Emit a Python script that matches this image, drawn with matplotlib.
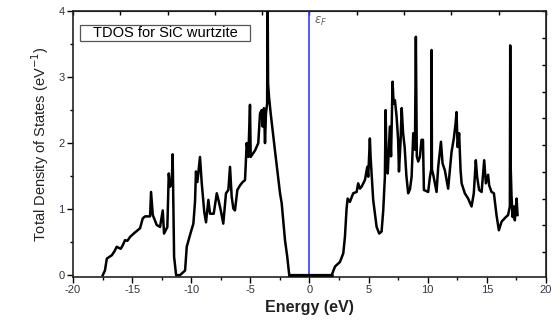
import numpy as np
import matplotlib
matplotlib.use('Agg')
import matplotlib.pyplot as plt
from matplotlib.ticker import MultipleLocator
from matplotlib.patches import Rectangle

plt.rcParams['font.family'] = ['Liberation Sans', 'DejaVu Sans']
plt.rcParams['axes.unicode_minus'] = False

# TDOS curve (energy in eV, DOS in 1/eV)
energy = [-17.48, -17.3, -17.14, -16.9, -16.72, -16.5, -16.3, -16.1, -15.96, -15.8,
          -15.6, -15.4, -15.17, -14.8, -14.33, -14.1, -13.9, -13.48, -13.4, -13.25,
          -12.92, -12.64, -12.41, -12.3, -12.02, -11.9, -11.79, -11.65, -11.57, -11.45,
          -11.28, -10.95, -10.52, -10.38, -10.1, -9.82, -9.68, -9.6, -9.48, -9.26,
          -9.11, -8.9, -8.75, -8.55, -8.41, -8.1, -7.84, -7.7, -7.5, -7.29,
          -7.06, -6.86, -6.72, -6.58, -6.44, -6.3, -6.1, -5.87, -5.65, -5.45,
          -5.31, -5.17, -5.03, -4.97, -4.6, -4.33, -4.18, -4.04, -3.96, -3.85,
          -3.76, -3.68, -3.58, -3.54, -3.5, -3.42, -3.28, -2.92, -2.49, -2.35,
          -2.07, -1.88, -1.71, 1.88, 2.16, 2.58, 2.86, 3.0, 3.14, 3.23,
          3.42, 3.7, 3.99, 4.12, 4.27, 4.41, 4.69, 4.89, 4.97, 5.11,
          5.17, 5.39, 5.68, 5.9, 6.1, 6.24, 6.38, 6.44, 6.52, 6.62,
          6.8, 6.9, 7.03, 7.12, 7.23, 7.37, 7.5, 7.57, 7.7, 7.8,
          7.92, 8.05, 8.2, 8.35, 8.5, 8.64, 8.78, 8.92, 9.0, 9.08,
          9.2, 9.34, 9.48, 9.6, 9.68, 10.04, 10.19, 10.3, 10.33, 10.36,
          10.47, 10.75, 10.89, 11.12, 11.26, 11.45, 11.73, 12.02, 12.21, 12.36,
          12.44, 12.53, 12.66, 12.78, 12.87, 13.14, 13.42, 13.71, 13.9, 14.07,
          14.18, 14.35, 14.56, 14.78, 14.92, 15.11, 15.2, 15.4, 15.6, 15.82,
          16.02, 16.25, 16.61, 16.8, 16.95, 16.98, 17.02, 17.09, 17.18, 17.29,
          17.37, 17.52, 17.6]
tdos = [0.0, 0.07, 0.25, 0.28, 0.30, 0.36, 0.43, 0.41, 0.40, 0.45,
        0.53, 0.52, 0.58, 0.64, 0.71, 0.86, 0.89, 0.89, 1.26, 0.91,
        0.76, 0.73, 0.98, 0.63, 0.73, 1.54, 1.34, 1.39, 1.83, 0.28,
        0.0, 0.0, 0.07, 0.43, 0.61, 0.78, 1.11, 1.57, 1.41, 1.79,
        1.39, 0.96, 0.80, 1.14, 0.93, 0.93, 1.24, 1.14, 0.98, 0.78,
        1.24, 1.29, 1.64, 1.19, 1.01, 0.98, 1.29, 1.36, 1.41, 1.44,
        2.0, 1.79, 2.58, 1.79, 1.89, 2.0, 2.45, 2.5, 2.25, 2.53,
        2.0, 2.45, 2.6, 4.3, 2.9, 2.7, 2.45, 1.89, 1.24, 1.09,
        0.53, 0.28, 0.0, 0.0, 0.13, 0.2, 0.33, 0.58, 1.01, 1.16,
        1.11, 1.24, 1.26, 1.39, 1.31, 1.34, 1.44, 1.64, 1.49, 2.07,
        1.79, 1.14, 0.73, 0.63, 0.66, 0.98, 1.49, 2.5, 1.69, 1.54,
        2.25, 1.8, 2.93, 2.6, 2.65, 2.4, 2.05, 1.57, 2.0, 2.53,
        2.15, 1.94, 1.5, 1.24, 1.3, 1.49, 2.15, 1.9, 3.61, 1.8,
        1.72, 1.79, 2.05, 2.05, 1.29, 1.26, 1.49, 1.6, 3.41, 1.6,
        1.52, 1.26, 1.64, 2.02, 1.69, 1.59, 1.31, 1.87, 2.07, 2.3,
        2.47, 1.94, 2.15, 1.59, 1.39, 1.24, 1.16, 1.04, 1.24, 1.74,
        1.49, 1.29, 1.26, 1.74, 1.39, 1.52, 1.36, 1.26, 1.24, 0.91,
        0.68, 0.81, 0.88, 0.91, 1.04, 3.48, 1.64, 1.2, 0.88, 1.04,
        0.83, 1.16, 0.91]

x_ticks = [-20, -15, -10, -5, 0, 5, 10, 15, 20]
y_ticks = [0, 1, 2, 3, 4]

fig = plt.figure(figsize=(5.59, 3.2), dpi=100)
ax = fig.add_axes([0.1306, 0.134, 0.846, 0.8315])

# zero-DOS gap segment, then the curve
ax.plot(energy, tdos, color='black', linewidth=1.8, zorder=3)
ax.plot([-1.71, 1.88], [0, 0], color='black', linewidth=1.8, zorder=3)
ax.axvline(0, color='#3a3aff', linewidth=1.2, zorder=2)

ax.set_xlim(-20, 20)
ax.set_ylim(-0.03, 4)
ax.set_xticks(x_ticks)
ax.set_yticks(y_ticks)
ax.xaxis.set_minor_locator(MultipleLocator(2.5))
ax.yaxis.set_minor_locator(MultipleLocator(0.5))
ax.tick_params(axis='both', which='major', direction='out', length=4, width=1,
               labelsize=8, labelcolor='#333344', pad=2)
ax.tick_params(axis='both', which='minor', direction='out', length=2.5, width=1)

# inner ticks on top and right (they follow their own spacing in the source)
top = ax.secondary_xaxis('top')
top.set_xticks(np.arange(-20, 21, 4))
top.tick_params(direction='in', length=3, width=1, labeltop=False)
right = ax.secondary_yaxis('right')
right.set_yticks(np.arange(0.35, 4.0, 0.405))
right.tick_params(direction='in', length=3, width=1, labelright=False)

for sp in ax.spines.values():
    sp.set_linewidth(1.2)
    sp.set_color('#222222')

ax.set_xlabel('Energy (eV)', fontsize=11.5, fontweight='bold', color='#222222', labelpad=3)
ax.set_ylabel('Total Density of States (eV$^{-1}$)', fontsize=10.5, color='#222222', labelpad=5)

# title box
ax.add_patch(Rectangle((-19.4, 3.55), 14.4, 0.24, facecolor='white',
                       edgecolor='#555555', linewidth=0.9, zorder=4))
ax.text(-12.2, 3.67, 'TDOS for SiC wurtzite', fontsize=10.5, color='black',
        ha='center', va='center', zorder=5)
ax.text(0.4, 3.84, r'$\epsilon_F$', fontsize=8.5, color='#666666', va='center')

fig.savefig('out.png', dpi=100)
